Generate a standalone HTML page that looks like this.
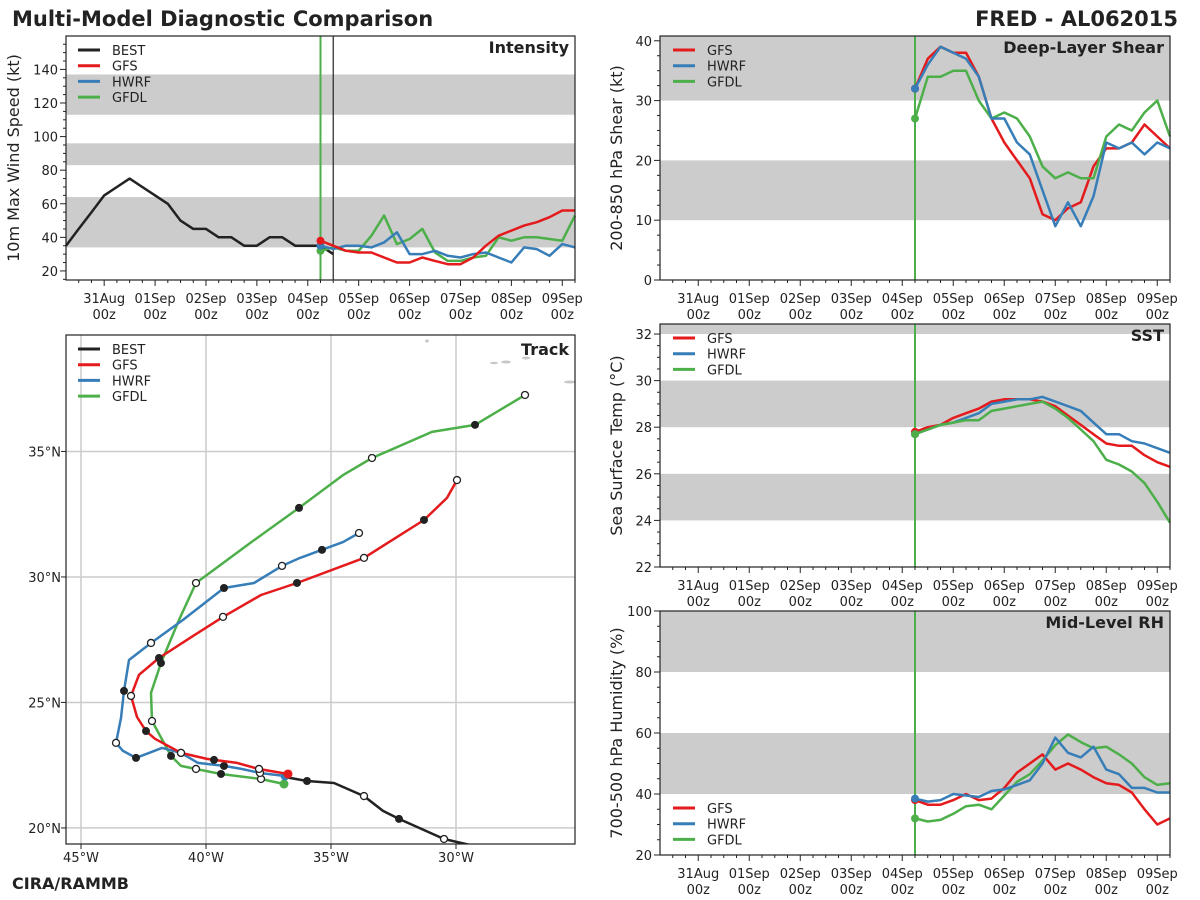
<!DOCTYPE html>
<html><head><meta charset="utf-8">
<style>
html,body{margin:0;padding:0;background:#fff;}
svg{display:block;font-family:"DejaVu Sans","Liberation Sans",sans-serif;}
</style></head>
<body>
<svg id="chart" width="1200" height="900" viewBox="0 0 1200 900" xmlns="http://www.w3.org/2000/svg">
<text x="12" y="26" font-size="21" font-weight="bold" fill="#222">Multi-Model Diagnostic Comparison</text>
<text x="1178" y="26" font-size="21" font-weight="bold" fill="#222" text-anchor="end">FRED - AL062015</text>
<text x="12" y="889" font-size="16" font-weight="bold" fill="#222">CIRA/RAMMB</text>
</svg>
<script>
// ---------- data ----------
const dayLabels = ["31Aug","01Sep","02Sep","03Sep","04Sep","05Sep","06Sep","07Sep","08Sep","09Sep"];
const bestIntensity = [35,45,55,65,70,75,70,65,60,50,45,45,40,40,35,35,40,40,35,35,35,30];
const gfsIntensity  = [38,35,32,31,31,28,25,25,28,26,24,24,28,35,41,44,47,49,52,56,56];
const hwrfIntensity = [35,33,35,35,34,37,43,30,30,32,29,28,30,31,28,25,34,33,29,36,34];
const gfdlIntensity = [32,34,32,32,41,53,36,39,45,31,26,26,28,29,40,38,40,40,39,38,53];
const gfsShear  = [32,37,39,38,38,34,27,23,20,17,11,10,12,13,19,22,22,23,26,24,22];
const hwrfShear = [32,36,39,38,37,34,27,27,23,21,15,9,13,9,14,23,22,23,21,23,22];
const gfdlShear = [27,34,34,35,35,30,27,28,27,24,19,17,18,17,17,24,26,25,28,30,24];
const gfsSst  = [27.8,28.0,28.1,28.4,28.6,28.8,29.1,29.2,29.2,29.2,29.1,28.9,28.5,28.1,27.7,27.3,27.2,27.2,26.8,26.5,26.3];
const hwrfSst = [27.7,27.9,28.1,28.2,28.4,28.6,29.0,29.1,29.2,29.2,29.3,29.1,28.9,28.7,28.2,27.7,27.7,27.4,27.3,27.1,26.9];
const gfdlSst = [27.7,27.9,28.1,28.2,28.3,28.3,28.7,28.8,28.9,29.0,29.1,28.8,28.4,27.9,27.4,26.6,26.4,26.1,25.6,24.8,23.9];
const gfsRh  = [38,36.5,36.5,38,40,38,38.5,42,47,50,53,48,50,48,45.5,43.5,43,40.5,35,30,32];
const hwrfRh = [38.5,37.5,38,40,39.5,39,41,41.5,43,44.5,50,58.5,53.5,52,55.5,48,46.5,42,42,40.5,40.5];
const gfdlRh = [32,31,31.5,33.5,36,36.5,35,39.5,44,46.5,51,56,59.5,57,55,55.5,53,50,45.5,43,43.5];
const bestLon = [-29.44,-30.48,-32.28,-32.92,-33.68,-34.88,-35.96,-36.84];
const bestLat = [19.32,19.56,20.36,20.68,21.27,21.79,21.87,22.03];
const bestMk  = ["","o","f","","o","","f",""];
const gfsLon = [-36.72,-37.88,-38.76,-39.68,-39.96,-41.0,-42.04,-42.4,-42.76,-42.92,-43.0,-42.68,-41.88,-40.64,-39.32,-37.8,-36.36,-33.68,-31.28,-30.36,-29.96];
const gfsLat = [22.15,22.35,22.59,22.71,22.75,22.99,23.55,23.86,24.42,24.98,25.26,26.10,26.77,27.57,28.41,29.28,29.76,30.76,32.27,33.15,33.86];
const gfsMk  = ["s","o","","f","","o","","f","","","o","","f","","o","","f","o","f","","o"];
const hwrfLon = [-36.84,-37.84,-38.56,-39.28,-40.32,-41.0,-41.76,-42.8,-43.32,-43.6,-43.4,-43.28,-43.08,-42.2,-40.92,-39.28,-38.08,-36.96,-36.24,-35.36,-34.52,-33.88];
const hwrfLat = [22.07,22.19,22.35,22.47,22.59,22.99,23.19,22.79,23.07,23.39,24.38,25.46,26.69,27.37,28.29,29.56,29.76,30.44,30.76,31.08,31.39,31.75];
const hwrfMk  = ["s","o","","f","","o","","f","","o","","f","","o","","f","","o","","f","","o"];
const gfdlLon = [-36.88,-37.8,-39.4,-40.4,-41.0,-41.4,-42.16,-42.2,-41.8,-41.08,-40.4,-38.24,-36.28,-34.52,-33.36,-30.96,-29.24,-27.24];
const gfdlLat = [21.75,21.95,22.15,22.35,22.47,22.87,24.26,25.38,26.57,28.29,29.76,31.35,32.75,34.06,34.74,35.78,36.06,37.25];
const gfdlMk  = ["s","o","f","o","","f","o","","f","","o","","f","","o","","f","o"];
const trackLonTicks = [-45,-40,-35,-30];
const trackLatTicks = [20,25,30,35];

// ---------- helpers ----------
const NS = "http://www.w3.org/2000/svg";
const svg = document.getElementById("chart");
function mk(tag, attrs, parent){ const e=document.createElementNS(NS,tag); for(const k in attrs) e.setAttribute(k,attrs[k]); (parent||svg).appendChild(e); return e; }
const COL = {BEST:"#222222", GFS:"#e41a1c", HWRF:"#377eb8", GFDL:"#4daf4a"};
const T0=-0.75, T1=9.25, INIT=4.25;
function modelTimes(n){ const a=[]; for(let i=0;i<n;i++) a.push(INIT+0.25*i); return a; }

function timePanel(p){
  const g = mk("g",{});
  
  
  const xs = t => p.x + (t-T0)/(T1-T0)*p.w;
  const ys = v => p.y + p.h - (v-p.ymin)/(p.ymax-p.ymin)*p.h;
  p.xs=xs; p.ys=ys; p.g=g;
  p.bands.forEach(b=>{
    const r = mk("rect",{x:p.x,y:ys(Math.min(b[1],p.ymax)),width:p.w,height:ys(b[0])-ys(Math.min(b[1],p.ymax)),fill:"#cccccc"},g);
    
    
  });
  for(let t=-0.5;t<=9.25;t+=0.25){
    const major = Math.abs(t-Math.round(t))<1e-6 && t>=0;
    const tk = mk("line",{x1:xs(t),x2:xs(t),y1:p.y+p.h,y2:p.y+p.h+(major?6:3),stroke:"#222","stroke-width":1},g);
    
    
  }
  dayLabels.forEach((d,i)=>{
    const t1 = mk("text",{x:xs(i),y:p.y+p.h+23,"font-size":13,"text-anchor":"middle",fill:"#222"},g);
    t1.textContent=d;
    
    
    const t2 = mk("text",{x:xs(i),y:p.y+p.h+39,"font-size":13,"text-anchor":"middle",fill:"#222"},g);
    t2.textContent="00z";
    
    
  });
  const minor = p.step/4;
  for(let v=Math.ceil(p.ymin/minor)*minor; v<=p.ymax+1e-9; v+=minor){
    const isMaj = Math.abs(v/p.step-Math.round(v/p.step))<1e-6;
    const tk = mk("line",{x1:p.x,x2:p.x-(isMaj?6:3),y1:ys(v),y2:ys(v),stroke:"#222","stroke-width":1},g);
    
    
    if(isMaj){
      const lb = mk("text",{x:p.x-8,y:ys(v)+5,"font-size":13,"text-anchor":"end",fill:"#222"},g);
      lb.textContent = String(Math.round(v));
      
      
    }
  }
  const yl = mk("text",{x:0,y:0,"font-size":16,"text-anchor":"middle",fill:"#222",transform:`translate(${p.ylx},${p.y+p.h/2}) rotate(-90)`},g);
  yl.textContent = p.ylabel;
  
  
  const tt = mk("text",{x:p.x+p.w-6,y:p.y+17,"font-size":16,"font-weight":"bold","text-anchor":"end",fill:"#222"},g);
  tt.textContent = p.title;
  
  
  const vl = mk("line",{x1:xs(INIT),x2:xs(INIT),y1:p.y,y2:p.y+p.h,stroke:"#4daf4a","stroke-width":2},g);
  
  
  return p;
}
function series(p, times, vals, color, name, dot){
  const d = vals.map((v,i)=>(i?"L":"M")+p.xs(times[i]).toFixed(1)+","+p.ys(v).toFixed(1)).join("");
  const pl = mk("path",{d:d,fill:"none",stroke:color,"stroke-width":2.5,"stroke-linejoin":"round"},p.g);
  
  
  if(dot){
    const c = mk("circle",{cx:p.xs(times[0]),cy:p.ys(vals[0]),r:4,fill:color},p.g);
    
    
  }
}
function frame(p){
  const r = mk("rect",{x:p.x,y:p.y,width:p.w,height:p.h,fill:"none",stroke:"#222","stroke-width":1.2},p.g);
  
  
}
function legend(p, names, x, y0){
  const g = mk("g",{},p.g);
  
  
  names.forEach((n,i)=>{
    const y = y0+i*15.7;
    const l = mk("line",{x1:x,x2:x+22,y1:y,y2:y,stroke:COL[n],"stroke-width":3},g);
    
    
    const t = mk("text",{x:x+34,y:y+5,"font-size":13,fill:"#222"},g);
    t.textContent=n;
    
    
  });
}

// ---------- intensity ----------
const pI = timePanel({name:"intensity-panel",x:66,y:36,w:509,h:244,ymin:14.6,ymax:159.9,step:20,bands:[[34,64],[83,96],[113,137]],ylabel:"10m Max Wind Speed (kt)",ylx:19,title:"Intensity"});
const bl = mk("line",{x1:pI.xs(4.5),x2:pI.xs(4.5),y1:36,y2:280,stroke:"#222","stroke-width":1.2},pI.g);


const bestT = bestIntensity.map((v,i)=>T0+0.25*i);
series(pI,bestT,bestIntensity,COL.BEST,"best-intensity",false);
series(pI,modelTimes(21),gfdlIntensity,COL.GFDL,"gfdl-intensity",true);
series(pI,modelTimes(21),hwrfIntensity,COL.HWRF,"hwrf-intensity",true);
series(pI,modelTimes(21),gfsIntensity,COL.GFS,"gfs-intensity",true);
legend(pI,["BEST","GFS","HWRF","GFDL"],78,50);
frame(pI);

// ---------- shear ----------
const pS = timePanel({name:"shear-panel",x:660,y:36,w:510,h:244,ymin:0,ymax:40.8,step:10,bands:[[10,20],[30,41]],ylabel:"200-850 hPa Shear (kt)",ylx:622,title:"Deep-Layer Shear"});
series(pS,modelTimes(21),gfsShear,COL.GFS,"gfs-shear",true);
series(pS,modelTimes(21),gfdlShear,COL.GFDL,"gfdl-shear",true);
series(pS,modelTimes(21),hwrfShear,COL.HWRF,"hwrf-shear",true);
legend(pS,["GFS","HWRF","GFDL"],673,50);
frame(pS);

// ---------- SST ----------
const pT = timePanel({name:"sst-panel",x:660,y:324,w:510,h:243,ymin:22,ymax:32.43,step:2,bands:[[24,26],[28,30],[32,33]],ylabel:"Sea Surface Temp (°C)",ylx:622,title:"SST"});
series(pT,modelTimes(21),gfsSst,COL.GFS,"gfs-sst",true);
series(pT,modelTimes(21),hwrfSst,COL.HWRF,"hwrf-sst",true);
series(pT,modelTimes(21),gfdlSst,COL.GFDL,"gfdl-sst",true);
legend(pT,["GFS","HWRF","GFDL"],673,338);
frame(pT);

// ---------- RH ----------
const pR = timePanel({name:"rh-panel",x:660,y:611,w:510,h:244,ymin:20,ymax:100,step:20,bands:[[40,60],[80,100]],ylabel:"700-500 hPa Humidity (%)",ylx:622,title:"Mid-Level RH"});
series(pR,modelTimes(21),gfsRh,COL.GFS,"gfs-rh",true);
series(pR,modelTimes(21),gfdlRh,COL.GFDL,"gfdl-rh",true);
series(pR,modelTimes(21),hwrfRh,COL.HWRF,"hwrf-rh",true);
legend(pR,["GFS","HWRF","GFDL"],673,808);
frame(pR);

// ---------- track ----------
const TR = {x:66,y:335,w:509,h:509,lon0:-45.6,lon1:-25.24,lat0:19.36,lat1:39.64};
const lx = lon => TR.x + (lon-TR.lon0)/(TR.lon1-TR.lon0)*TR.w;
const ly = lat => TR.y + TR.h - (lat-TR.lat0)/(TR.lat1-TR.lat0)*TR.h;
const gT = mk("g",{});


const clip = mk("clipPath",{id:"trk"},gT);
mk("rect",{x:TR.x,y:TR.y,width:TR.w,height:TR.h},clip);
trackLonTicks.forEach(lon=>{
  const gl = mk("line",{x1:lx(lon),x2:lx(lon),y1:TR.y,y2:TR.y+TR.h,stroke:"#cccccc","stroke-width":1.5},gT);
  
  
  const tk = mk("line",{x1:lx(lon),x2:lx(lon),y1:TR.y+TR.h,y2:TR.y+TR.h+5,stroke:"#222"},gT);
  
  
  const t = mk("text",{x:lx(lon),y:TR.y+TR.h+18,"font-size":13,"text-anchor":"middle",fill:"#222"},gT);
  t.textContent = Math.abs(lon)+"°W";
  
  
});
trackLatTicks.forEach(lat=>{
  const gl = mk("line",{x1:TR.x,x2:TR.x+TR.w,y1:ly(lat),y2:ly(lat),stroke:"#cccccc","stroke-width":1.5},gT);
  
  
  const tk = mk("line",{x1:TR.x,x2:TR.x-5,y1:ly(lat),y2:ly(lat),stroke:"#222"},gT);
  
  
  const t = mk("text",{x:TR.x-5,y:ly(lat)+5,"font-size":13,"text-anchor":"end",fill:"#222"},gT);
  t.textContent = lat+"°N";
  
  
});
[[427,341,2,1.5],[494,363,4,1.3],[506,362,5,1.5],[526,358,4,1.5],[570,382,6,1.5]].forEach(s=>{
  const e = mk("ellipse",{cx:s[0],cy:s[1],rx:s[2],ry:s[3],fill:"#c8c8c8"},gT);
  
  
});
function track(lons,lats,mks,color,name){
  const g = mk("g",{"clip-path":"url(#trk)"},gT);
  
  
  const d = lons.map((v,i)=>(i?"L":"M")+lx(v).toFixed(1)+","+ly(lats[i]).toFixed(1)).join("");
  const p = mk("path",{d:d,fill:"none",stroke:color,"stroke-width":2.5,"stroke-linejoin":"round"},g);
  
  
  mks.forEach((m,i)=>{
    if(!m) return;
    let attrs;
    if(m==="s") attrs={r:4.5,fill:color,stroke:"none"};
    else if(m==="o") attrs={r:3.5,fill:"#fff",stroke:"#222","stroke-width":1.3};
    else attrs={r:4,fill:"#222",stroke:"none"};
    attrs.cx=lx(lons[i]); attrs.cy=ly(lats[i]);
    const c = mk("circle",attrs,g);
    
    
  });
}
track(bestLon,bestLat,bestMk,COL.BEST,"best");
track(gfdlLon,gfdlLat,gfdlMk,COL.GFDL,"gfdl");
track(hwrfLon,hwrfLat,hwrfMk,COL.HWRF,"hwrf");
track(gfsLon,gfsLat,gfsMk,COL.GFS,"gfs");
const tT = mk("text",{x:TR.x+TR.w-6,y:TR.y+20,"font-size":16,"font-weight":"bold","text-anchor":"end",fill:"#222"},gT);
tT.textContent="Track";


legend({g:gT},["BEST","GFS","HWRF","GFDL"],78,349);
const fT = mk("rect",{x:TR.x,y:TR.y,width:TR.w,height:TR.h,fill:"none",stroke:"#222","stroke-width":1.2},gT);


</script>
</body></html>
